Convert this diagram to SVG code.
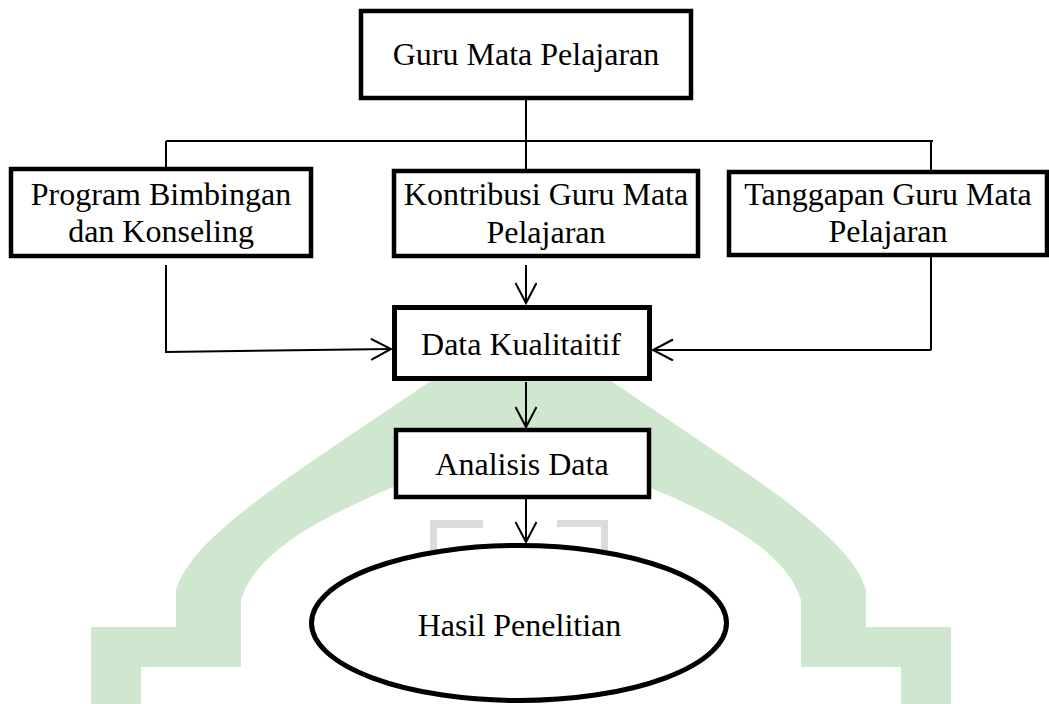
<svg xmlns="http://www.w3.org/2000/svg" width="1049" height="704" viewBox="0 0 1049 704">
<style>
.box{fill:#fff;stroke:#000;stroke-width:4.5}
.lbl{font-family:"Liberation Serif","Times New Roman",serif;font-size:32px;fill:#000;text-anchor:middle}
.ln{fill:none;stroke:#000;stroke-width:2}
.arr{fill:none;stroke:#000;stroke-width:2;marker-end:url(#ah)}
</style>
<defs>
<marker id="ah" markerUnits="userSpaceOnUse" markerWidth="24" markerHeight="26" refX="21" refY="11" orient="auto">
<path d="M1,0.5 L21,11 L1,21.5" fill="none" stroke="#000" stroke-width="2"/>
</marker>
</defs>
<rect width="1049" height="704" fill="#fff"/>
<g id="watermark">
<path fill="#cfe7cf" d="M91,704 V627 H176 V590 C195,525 330,455 521,318 C712,455 847,525 866,590 V627 H951 V704 H901 V667 H801 V600 C785,545 700,500 521,440 C342,500 257,545 241,600 V667 H141 V704 Z"/>
<path fill="#d9dcd9" d="M430,560 V520 H483 V528 H437 V560 Z"/>
<path fill="#d9dcd9" d="M557,520 H608 V558 H601 V527 H557 Z"/>
</g>
<g id="connectors">
<path class="ln" d="M526,100 V170"/>
<path class="ln" d="M166,141 H933"/>
<path class="ln" d="M166,141 V168"/>
<path class="ln" d="M931,141 V350"/>
<path class="arr" d="M166,265 V352 L391,349"/>
<path class="arr" d="M931,350 H653"/>
<path class="arr" d="M526,265 V303"/>
<path class="arr" d="M526,382 V427"/>
<path class="arr" d="M526,499 V542"/>
</g>
<g id="node-guru">
<rect class="box" x="361" y="11" width="330" height="87"/>
<text class="lbl" x="526" y="65">Guru Mata Pelajaran</text>
</g>
<g id="node-program">
<rect class="box" x="11" y="169" width="300" height="87"/>
<text class="lbl" x="161" y="205">Program Bimbingan</text>
<text class="lbl" x="161" y="242">dan Konseling</text>
</g>
<g id="node-kontribusi">
<rect class="box" x="394" y="171" width="304" height="85"/>
<text class="lbl" x="546" y="205">Kontribusi Guru Mata</text>
<text class="lbl" x="546" y="243">Pelajaran</text>
</g>
<g id="node-tanggapan">
<rect class="box" x="729" y="172" width="318" height="83"/>
<text class="lbl" x="888" y="205">Tanggapan Guru Mata</text>
<text class="lbl" x="888" y="242">Pelajaran</text>
</g>
<g id="node-data">
<rect class="box" x="394.5" y="307.5" width="255" height="71" style="stroke-width:5"/>
<text class="lbl" x="521" y="355">Data Kualitaitif</text>
</g>
<g id="node-analisis">
<rect class="box" x="396" y="430" width="253" height="67"/>
<text class="lbl" x="522" y="475">Analisis Data</text>
</g>
<g id="node-hasil">
<ellipse cx="519" cy="623" rx="207.5" ry="77.5" fill="#fff" stroke="#000" stroke-width="5"/>
<text class="lbl" x="519.5" y="636">Hasil Penelitian</text>
</g>
</svg>
